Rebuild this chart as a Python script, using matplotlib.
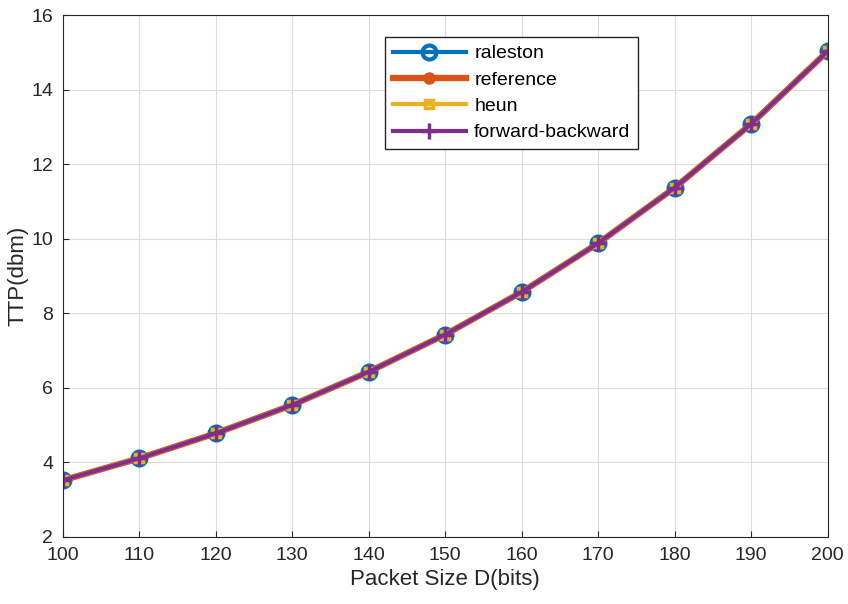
import numpy as np
import matplotlib.pyplot as plt

plt.rcParams['font.family'] = ['Liberation Sans', 'DejaVu Sans']

packet_size = [100, 110, 120, 130, 140, 150, 160, 170, 180, 190, 200]
ttp_raleston = [3.52, 4.11, 4.78, 5.54, 6.43, 7.43, 8.57, 9.88, 11.37, 13.08, 15.03]
ttp_reference = [3.52, 4.11, 4.78, 5.54, 6.43, 7.43, 8.57, 9.88, 11.37, 13.08, 15.03]
ttp_heun = [3.52, 4.11, 4.78, 5.54, 6.43, 7.43, 8.57, 9.88, 11.37, 13.08, 15.03]
ttp_fb = [3.52, 4.11, 4.78, 5.54, 6.43, 7.43, 8.57, 9.88, 11.37, 13.08, 15.03]

fig = plt.figure(figsize=(8.48, 6.04), dpi=100)
ax = fig.add_axes([0.074, 0.111, 0.902, 0.864])

ax.plot(packet_size, ttp_raleston, color=(0, 0.447, 0.741), lw=3, marker='o',
        ms=10, mfc='none', mew=3, label='raleston')
ax.plot(packet_size, ttp_reference, color=(0.85, 0.325, 0.098), lw=4.5, marker='.',
        ms=16, label='reference')
ax.plot(packet_size, ttp_heun, color=(0.929, 0.694, 0.125), lw=3, marker='s',
        ms=6, mfc='none', mew=2.5, label='heun')
ax.plot(packet_size, ttp_fb, color=(0.494, 0.184, 0.556), lw=3, marker='+',
        ms=11, mew=2.5, label='forward-backward')

ax.set_xlim(100, 200)
ax.set_ylim(2, 16)
ax.set_xticks(np.arange(100, 201, 10))
ax.set_yticks(np.arange(2, 17, 2))
ax.grid(True, color='#dcdcdc', lw=0.8)
ax.tick_params(labelsize=14, direction='in', length=4, colors='#262626', pad=7)
for s in ax.spines.values():
    s.set_color('#262626')
ax.set_xlabel('Packet Size D(bits)', fontsize=16, color='#262626', labelpad=4)
ax.set_ylabel('TTP(dbm)', fontsize=16, color='#262626', labelpad=2)

leg = ax.legend(loc='upper left', bbox_to_anchor=(0.421, 0.958), borderaxespad=0,
                fontsize=14, fancybox=False, edgecolor='#262626', framealpha=1,
                handlelength=3.8, borderpad=0.4, labelspacing=0.45, handletextpad=0.4)
leg.get_frame().set_linewidth(1)

fig.savefig('out.png', dpi=100)
